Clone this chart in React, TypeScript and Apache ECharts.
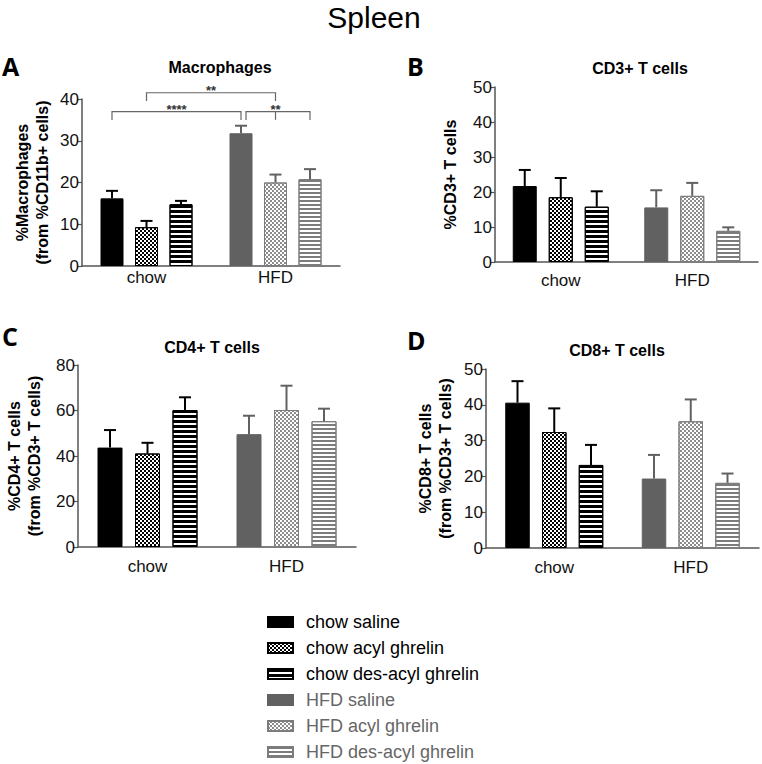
import React, { useEffect, useRef } from 'react';
import * as echarts from 'echarts';

const categories = ['chow', 'HFD'];
const groupNames = [
  'chow saline',
  'chow acyl ghrelin',
  'chow des-acyl ghrelin',
  'HFD saline',
  'HFD acyl ghrelin',
  'HFD des-acyl ghrelin',
];

// means and SEM, order follows groupNames
const macroMean = [16.2, 9.3, 14.8, 31.8, 20.0, 20.8];
const macroErr = [1.8, 1.5, 0.8, 1.8, 1.9, 2.4];
const cd3Mean = [21.7, 18.5, 15.8, 15.6, 18.9, 8.9];
const cd3Err = [4.6, 5.5, 4.4, 4.9, 3.7, 1.0];
const cd4Mean = [43.7, 41.1, 60.2, 49.6, 60.2, 55.3];
const cd4Err = [7.7, 4.7, 5.6, 8.1, 10.7, 5.5];
const cd8Mean = [40.6, 32.4, 23.2, 19.4, 35.4, 18.2];
const cd8Err = [6.0, 6.6, 5.6, 6.6, 6.1, 2.6];

const yTicksA = [0, 40, 10];
const yTicksB = [0, 50, 10];
const yTicksC = [0, 80, 20];
const yTicksD = [0, 50, 10];

// significance brackets for panel A: [category, slot] of ends
const sigBrackets = [
  { from: [0, 1], to: [1, 1], y: 41.5, drop: 2, label: '**', mid: null as null | number[], nudgeFrom: 0, nudgeTo: 0 },
  { from: [0, 0], to: [1, 0], y: 37, drop: 2, label: '****', mid: null as null | number[], nudgeFrom: 0, nudgeTo: 0 },
  { from: [1, 0], to: [1, 2], y: 37, drop: 2, label: '**', mid: [1, 1], nudgeFrom: 5, nudgeTo: 0 },
];

const FONT = 'Liberation Sans, Arial, sans-serif';

const panels = [
  { letter: 'A', title: 'Macrophages', yName: '%Macrophages\n(from %CD11b+ cells)', ticks: yTicksA, mean: macroMean, err: macroErr,
    grid: { left: 82, top: 99, width: 258, height: 167 }, bw: 23, nameGap: 30, labelMargin: 3,
    letterPos: [2, 66], titlePos: [220, 67] },
  { letter: 'B', title: 'CD3+ T cells', yName: '%CD3+ T cells', ticks: yTicksB, mean: cd3Mean, err: cd3Err,
    grid: { left: 495, top: 87, width: 263, height: 175 }, bw: 24, nameGap: 35, labelMargin: 10,
    letterPos: [407, 66], titlePos: [640, 68] },
  { letter: 'C', title: 'CD4+ T cells', yName: '%CD4+ T cells\n(from %CD3+ T cells)', ticks: yTicksC, mean: cd4Mean, err: cd4Err,
    grid: { left: 78, top: 365, width: 278, height: 182 }, bw: 25, nameGap: 34, labelMargin: 11,
    letterPos: [2, 336], titlePos: [212, 347] },
  { letter: 'D', title: 'CD8+ T cells', yName: '%CD8+ T cells\n(from %CD3+ T cells)', ticks: yTicksD, mean: cd8Mean, err: cd8Err,
    grid: { left: 486, top: 369, width: 273, height: 179 }, bw: 24.5, nameGap: 31, labelMargin: 11,
    letterPos: [407, 340], titlePos: [617, 350] },
];

const checker = (color: string, s: number) => ({
  symbol: 'rect', symbolSize: 1, symbolKeepAspect: false, color,
  dashArrayX: [[s, s], [0, s, s, 0]], dashArrayY: [s, 0], rotation: 0,
});
const stripes = (color: string, on: number, off: number) => ({
  symbol: 'rect', symbolSize: 1, symbolKeepAspect: false, color,
  dashArrayX: [40, 0], dashArrayY: [on, off], rotation: 0,
});

const GRAY = '#616161';
const LIGHT = '#7c7c7c';
const groupStyles: any[] = [
  { color: '#000', borderColor: '#000' },
  { color: '#fff', borderColor: '#000', decal: checker('#000', 2) },
  { color: '#fff', borderColor: '#000', decal: stripes('#000', 2.2, 1.8) },
  { color: GRAY, borderColor: GRAY },
  { color: '#fff', borderColor: LIGHT, decal: checker('#8c8c8c', 2) },
  { color: '#fff', borderColor: LIGHT, decal: stripes(LIGHT, 2, 2) },
];

export default function App() {
  const ref = useRef<HTMLDivElement>(null);
  useEffect(() => {
    document.body.style.margin = '0';
    const chart = echarts.init(ref.current!, null, { renderer: 'svg' });
    const grids: any[] = [];
    const xAxes: any[] = [];
    const yAxes: any[] = [];
    const series: any[] = [];
    const graphics: any[] = [
      { type: 'text', x: 374, y: 17, style: { text: 'Spleen', font: `30px ${FONT}`, fill: '#000', align: 'center', verticalAlign: 'middle' } },
    ];
    panels.forEach((p, i) => {
      grids.push({ ...p.grid });
      xAxes.push({
        type: 'category', gridIndex: i, data: categories,
        axisLine: { lineStyle: { color: '#555', width: 1.5 } },
        axisTick: { alignWithLabel: true, length: 5, lineStyle: { color: '#555', width: 1.2 } },
        axisLabel: { color: '#111', fontSize: 17, fontFamily: FONT, margin: p.labelMargin },
      });
      yAxes.push({
        type: 'value', gridIndex: i, min: p.ticks[0], max: p.ticks[1], interval: p.ticks[2],
        splitLine: { show: false },
        axisLine: { show: true, lineStyle: { color: '#555', width: 1.5 } },
        axisTick: { show: true, length: 4, lineStyle: { color: '#555', width: 1.2 } },
        axisLabel: { color: '#111', fontSize: 17, fontFamily: FONT, margin: 3 },
        name: p.yName, nameLocation: 'middle', nameGap: p.nameGap, nameRotate: 90,
        nameTextStyle: { fontSize: 16, fontWeight: 'bold', fontFamily: FONT, color: '#000', lineHeight: 20 },
      });
      groupNames.forEach((name, g) => {
        const cat = Math.floor(g / 3);
        const st = groupStyles[g];
        series.push({
          type: 'bar', name, xAxisIndex: i, yAxisIndex: i, stack: `p${i}_${g % 3}`,
          barWidth: p.bw, barGap: '50%',
          data: categories.map((_, ci) => (ci === cat ? p.mean[g] : '-')),
          itemStyle: { color: st.color, borderColor: st.borderColor, borderWidth: 1, decal: st.decal },
          emphasis: { disabled: true }, silent: true,
        });
      });
      const bw = p.bw;
      series.push({
        type: 'custom', xAxisIndex: i, yAxisIndex: i, z: 5, silent: true,
        encode: { x: 0, y: 2 },
        data: p.mean.map((m, g) => [Math.floor(g / 3), g % 3, m, p.err[g], Math.floor(g / 3)]),
        renderItem: (params: any, api: any) => {
          const cat = api.value(0), slot = api.value(1), m = api.value(2), e = api.value(3), hfd = api.value(4);
          const base = api.coord([cat, m]);
          const top = api.coord([cat, m + e]);
          const x = base[0] + (slot - 1) * bw * 1.5;
          const color = hfd ? GRAY : '#000';
          return {
            type: 'group', children: [
              { type: 'line', shape: { x1: x, y1: base[1], x2: x, y2: top[1] }, style: { stroke: color, lineWidth: 2 } },
              { type: 'line', shape: { x1: x - 6, y1: top[1], x2: x + 6, y2: top[1] }, style: { stroke: color, lineWidth: 2 } },
            ],
          };
        },
      });
      if (i === 0) {
        series.push({
          type: 'custom', xAxisIndex: 0, yAxisIndex: 0, z: 5, silent: true,
          encode: { x: 0, y: 1 },
          data: sigBrackets.map((b) => [b.from[0], b.y]),
          renderItem: (params: any, api: any) => {
            const b = sigBrackets[params.dataIndex];
            const px = (c: number[], v: number) => {
              const pt = api.coord([c[0], v]);
              return [pt[0] + (c[1] - 1) * bw * 1.5, pt[1]];
            };
            const a = px(b.from, b.y); const a2 = px(b.from, b.y - b.drop);
            const z = px(b.to, b.y); const z2 = px(b.to, b.y - b.drop);
            const x1 = a[0] + b.nudgeFrom, x2 = z[0] + b.nudgeTo;
            const st = { stroke: '#666', lineWidth: 1.2 };
            const children: any[] = [
              { type: 'polyline', shape: { points: [[x1, a2[1]], [x1, a[1]], [x2, z[1]], [x2, z2[1]]] }, style: { ...st, fill: null } },
            ];
            let lx = (x1 + x2) / 2;
            if (b.mid) {
              const m1 = px(b.mid, b.y); const m2 = px(b.mid, b.y - b.drop);
              children.push({ type: 'line', shape: { x1: m1[0], y1: m1[1], x2: m2[0], y2: m2[1] }, style: st });
              lx = m1[0];
            }
            children.push({ type: 'text', x: lx, y: a[1] - 2, style: { text: b.label, font: `bold 13px ${FONT}`, fill: '#333', align: 'center', verticalAlign: 'middle' } });
            return { type: 'group', children };
          },
        });
      }
      graphics.push({ type: 'text', x: p.letterPos[0], y: p.letterPos[1], style: { text: p.letter, font: `bold 25px Open Sans, ${FONT}`, fill: '#000', align: 'left', verticalAlign: 'middle' } });
      graphics.push({ type: 'text', x: p.titlePos[0], y: p.titlePos[1], style: { text: p.title, font: `bold 16px ${FONT}`, fill: '#000', align: 'center', verticalAlign: 'middle' } });
    });

    chart.setOption({
      animation: false,
      backgroundColor: '#fff',
      grid: grids,
      xAxis: xAxes,
      yAxis: yAxes,
      legend: {
        orient: 'vertical', left: 267, top: 612, height: 200, padding: 0,
        itemWidth: 25, itemHeight: 10, itemGap: 6,
        selectedMode: false, icon: 'rect',
        textStyle: { fontSize: 18, fontFamily: FONT, lineHeight: 20, padding: [0, 0, 0, 8] },
        data: groupNames.map((n, g) => ({ name: n, textStyle: { color: g < 3 ? '#000' : '#666' } })),
      },
      graphic: graphics,
      series,
    });
    return () => chart.dispose();
  }, []);
  return <div ref={ref} style={{ width: 762, height: 764 }} />;
}
